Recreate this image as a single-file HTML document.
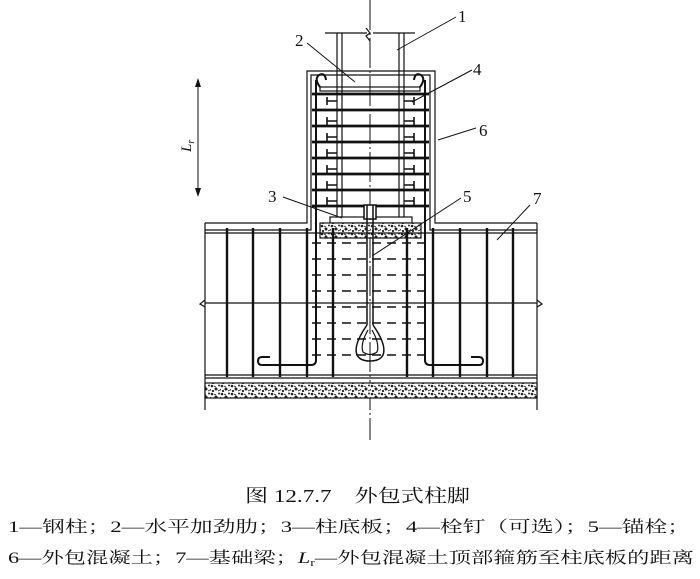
<!DOCTYPE html>
<html><head><meta charset="utf-8"><style>
html,body{margin:0;padding:0;background:#fff;}
svg{display:block;}
text{font-family:"Liberation Serif","Noto Serif CJK SC",serif;fill:#111;}
</style></head><body>
<svg width="700" height="579" viewBox="0 0 700 579" xmlns="http://www.w3.org/2000/svg">
<defs>
<pattern id="conc" width="10" height="8" patternUnits="userSpaceOnUse">
<rect width="10" height="8" fill="#fff"/>
<circle cx="2" cy="2" r="1.3" fill="#222"/><circle cx="6" cy="5" r="1.5" fill="#222"/>
<circle cx="9" cy="1.5" r="1" fill="#222"/><circle cx="3" cy="7" r="1.1" fill="#222"/>
<path d="M4 2 l2 1 M8 7 l2 -1 M0 5 l1 1.5" stroke="#222" stroke-width="0.9"/>
</pattern>
</defs>
<g stroke="#111" fill="none" stroke-width="1.2">
<line x1="370" y1="0" x2="370" y2="440" stroke-dasharray="30,3,2,3" stroke-width="1"/>
<line x1="325" y1="33" x2="367" y2="33"/><line x1="373" y1="33" x2="415" y2="33"/>
<path d="M366 28 l4 5 l-4 3 l4 5"/>
<line x1="337" y1="33" x2="337" y2="217"/><line x1="342" y1="33" x2="342" y2="217"/>
<line x1="399" y1="33" x2="399" y2="217"/><line x1="404" y1="33" x2="404" y2="217"/>
<rect x="320" y="87" width="100" height="4"/>
<path d="M205 223 L307 223 L307 71 L435 71 L435 223 L537 223"/>
<path d="M205 230 L311 230 L311 75 L430 75 L430 230 L537 230"/>
<path d="M320 87 q-6 -8 -1 -12 q6 -3 7 5" stroke-width="2"/>
<path d="M420 87 q6 -8 1 -12 q-6 -3 -7 5" stroke-width="2"/>
<g stroke-width="2.8">
<line x1="312" y1="94" x2="429" y2="94"/><line x1="312" y1="110" x2="429" y2="110"/>
<line x1="312" y1="126" x2="429" y2="126"/><line x1="312" y1="142" x2="429" y2="142"/>
<line x1="312" y1="158" x2="429" y2="158"/><line x1="312" y1="174" x2="429" y2="174"/>
<line x1="312" y1="190" x2="429" y2="190"/><line x1="312" y1="206" x2="429" y2="206"/>
</g>
<g stroke-width="1.6">
<path d="M327 97 v8 M327 101 h10"/><path d="M327 117 v8 M327 121 h10"/><path d="M327 133 v8 M327 137 h10"/><path d="M327 149 v8 M327 153 h10"/><path d="M327 165 v8 M327 169 h10"/><path d="M327 181 v8 M327 185 h10"/><path d="M327 197 v8 M327 201 h10"/>
<path d="M414 97 v8 M414 101 h-10"/><path d="M414 117 v8 M414 121 h-10"/><path d="M414 133 v8 M414 137 h-10"/><path d="M414 149 v8 M414 153 h-10"/><path d="M414 165 v8 M414 169 h-10"/><path d="M414 181 v8 M414 185 h-10"/><path d="M414 197 v8 M414 201 h-10"/>
</g>
<path d="M316 80 L316 360 q0 5 -5 5 L262 365 q-4 0 -4 -4 q0 -4 4 -4 h8" stroke-width="2"/>
<path d="M425 80 L425 360 q0 5 5 5 L479 365 q4 0 4 -4 q0 -4 -4 -4 h-8" stroke-width="2"/>
<rect x="330" y="217" width="82" height="6"/>
<rect x="320" y="223" width="101" height="15" fill="url(#conc)"/>
<rect x="364" y="205" width="12" height="14" fill="#fff" stroke-width="1.5"/>
<line x1="367" y1="205" x2="367" y2="325" stroke-width="1.5"/><line x1="373" y1="205" x2="373" y2="325" stroke-width="1.5"/>
<path d="M367 325 q-14 20 -10 30 q3 6 13 6 q10 0 13 -6 q4 -10 -10 -30" stroke-width="1.5"/>
<path d="M368 330 q-8 14 -5 22 q7 5 14 0 q3 -8 -5 -22" stroke-width="1.2"/>
<line x1="205" y1="223" x2="205" y2="410"/><line x1="537" y1="223" x2="537" y2="410"/>
<line x1="205" y1="233" x2="537" y2="233"/>
<line x1="205" y1="303" x2="537" y2="303"/>
<line x1="205" y1="375" x2="537" y2="375"/><line x1="205" y1="378" x2="537" y2="378"/>
<path d="M205 300 l-5 4 l5 3" /><path d="M537 300 l5 4 l-5 3"/>
<g stroke-width="2.4">
<line x1="227" y1="228" x2="227" y2="377"/><line x1="253" y1="228" x2="253" y2="377"/>
<line x1="280" y1="228" x2="280" y2="377"/><line x1="307" y1="228" x2="307" y2="377"/>
<line x1="333" y1="228" x2="333" y2="377"/><line x1="407" y1="228" x2="407" y2="377"/>
<line x1="433" y1="228" x2="433" y2="377"/><line x1="460" y1="228" x2="460" y2="377"/>
<line x1="487" y1="228" x2="487" y2="377"/><line x1="513" y1="228" x2="513" y2="377"/>
</g>
<g stroke-dasharray="9,6" stroke-width="1.4">
<line x1="312" y1="243" x2="430" y2="243"/><line x1="312" y1="259" x2="430" y2="259"/>
<line x1="312" y1="275" x2="430" y2="275"/><line x1="312" y1="291" x2="430" y2="291"/>
<line x1="312" y1="307" x2="430" y2="307"/><line x1="312" y1="323" x2="430" y2="323"/>
<line x1="312" y1="339" x2="430" y2="339"/><line x1="312" y1="355" x2="430" y2="355"/>
</g>
<rect x="205" y="383" width="332" height="15" fill="url(#conc)"/>
<line x1="198" y1="82" x2="198" y2="193" stroke-width="1"/>
<g stroke-width="1">
<line x1="456" y1="17" x2="397" y2="50"/>
<line x1="307" y1="43" x2="355" y2="82"/>
<line x1="472" y1="70" x2="412" y2="102"/>
<line x1="476" y1="128" x2="438" y2="140"/>
<line x1="283" y1="197" x2="342" y2="218"/>
<line x1="461" y1="198" x2="372" y2="256"/>
<line x1="530" y1="205" x2="497" y2="240"/>
</g>
</g>
<path d="M198 78 l-3 9 h6z M198 197 l-3 -9 h6z" fill="#111"/>
<g font-size="17">
<text x="458" y="22">1</text><text x="295" y="46">2</text><text x="473" y="75">4</text>
<text x="479" y="136">6</text><text x="268" y="202">3</text><text x="463" y="202">5</text>
<text x="533" y="204">7</text>
</g>
<text x="0" y="0" font-size="15" font-style="italic" transform="translate(191,152) rotate(-90)">L<tspan font-size="10" dy="3">r</tspan></text>
<text x="245" y="502" font-size="18" textLength="225" lengthAdjust="spacingAndGlyphs">图 12.7.7　外包式柱脚</text>
<text x="8" y="532" font-size="16" textLength="682" lengthAdjust="spacingAndGlyphs">1—钢柱；2—水平加劲肋；3—柱底板；4—栓钉（可选）；5—锚栓；</text>
<text x="8" y="563" font-size="16" textLength="686" lengthAdjust="spacingAndGlyphs">6—外包混凝土；7—基础梁；<tspan font-style="italic">L</tspan><tspan font-size="10" dy="3">r</tspan><tspan dy="-3">—外包混凝土顶部箍筋至柱底板的距离</tspan></text>
</svg>
</body></html>
